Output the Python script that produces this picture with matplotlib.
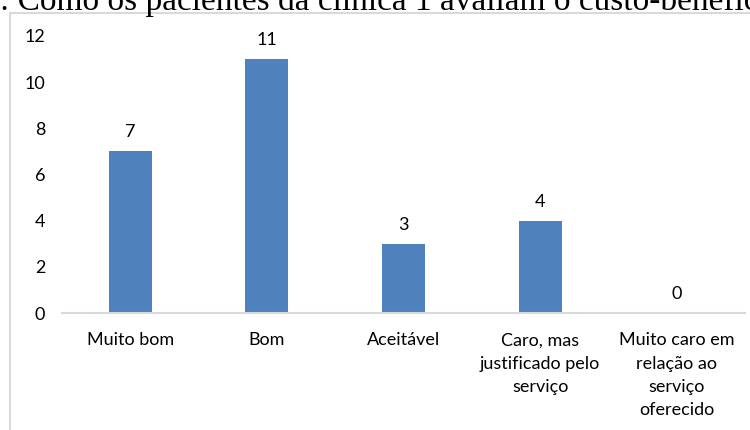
import matplotlib
matplotlib.use("Agg")
import matplotlib.pyplot as plt
from matplotlib.patches import Rectangle

# Respostas sobre custo-benefício
categorias = ["Muito bom", "Bom", "Aceitável", "Caro, mas\njustificado pelo\nserviço",
              "Muito caro em\nrelação ao\nserviço\noferecido"]
respostas = [7, 11, 3, 4, 0]
yticks = [0, 2, 4, 6, 8, 10, 12]
titulo = ": Como os pacientes da clínica 1 avaliam o custo-benefício"

bar_color = "#4F81BD"
axis_gray = "#D9D9D9"
label_font = ["Lato", "DejaVu Sans"]
fs = 13

fig = plt.figure(figsize=(7.5, 4.3), dpi=100)
W, H = 750, 430

# caption line, partly cut by the top edge
fig.text(0 / W, 1 - 10 / H, titulo, family="Liberation Serif", fontsize=24,
         ha="left", va="baseline", color="black")

# chart frame
fig.patches.append(Rectangle((10 / W, -0.1), 1.2, 1 - 13 / H + 0.1,
                             transform=fig.transFigure, fill=False,
                             edgecolor=axis_gray, linewidth=1.5))

ax = fig.add_axes([62 / W, 1 - 313 / H, 683 / W, (313 - 36) / H])
x = range(len(categorias))
bars = ax.bar(x, respostas, width=0.315, color=bar_color)
for xi, v in zip(x, respostas):
    ax.annotate(str(v), (xi, v), xytext=(0, 8), textcoords="offset points",
                ha="center", va="bottom", fontsize=fs, family=label_font)

ax.set_xlim(-0.5, len(categorias) - 0.5)
ax.set_ylim(0, 12)
ax.set_yticks(yticks)
ax.set_yticklabels([str(t) for t in yticks], family=label_font, fontsize=fs)
ax.set_xticks(list(x))
ax.set_xticklabels(categorias, family=label_font, fontsize=fs, linespacing=1.55)
ax.tick_params(axis="both", length=0)
ax.tick_params(axis="x", pad=14)
ax.tick_params(axis="y", pad=12)
for side in ["top", "right", "left"]:
    ax.spines[side].set_visible(False)
ax.spines["bottom"].set_color(axis_gray)
ax.spines["bottom"].set_linewidth(1.5)

fig.savefig("out.png", dpi=100)
